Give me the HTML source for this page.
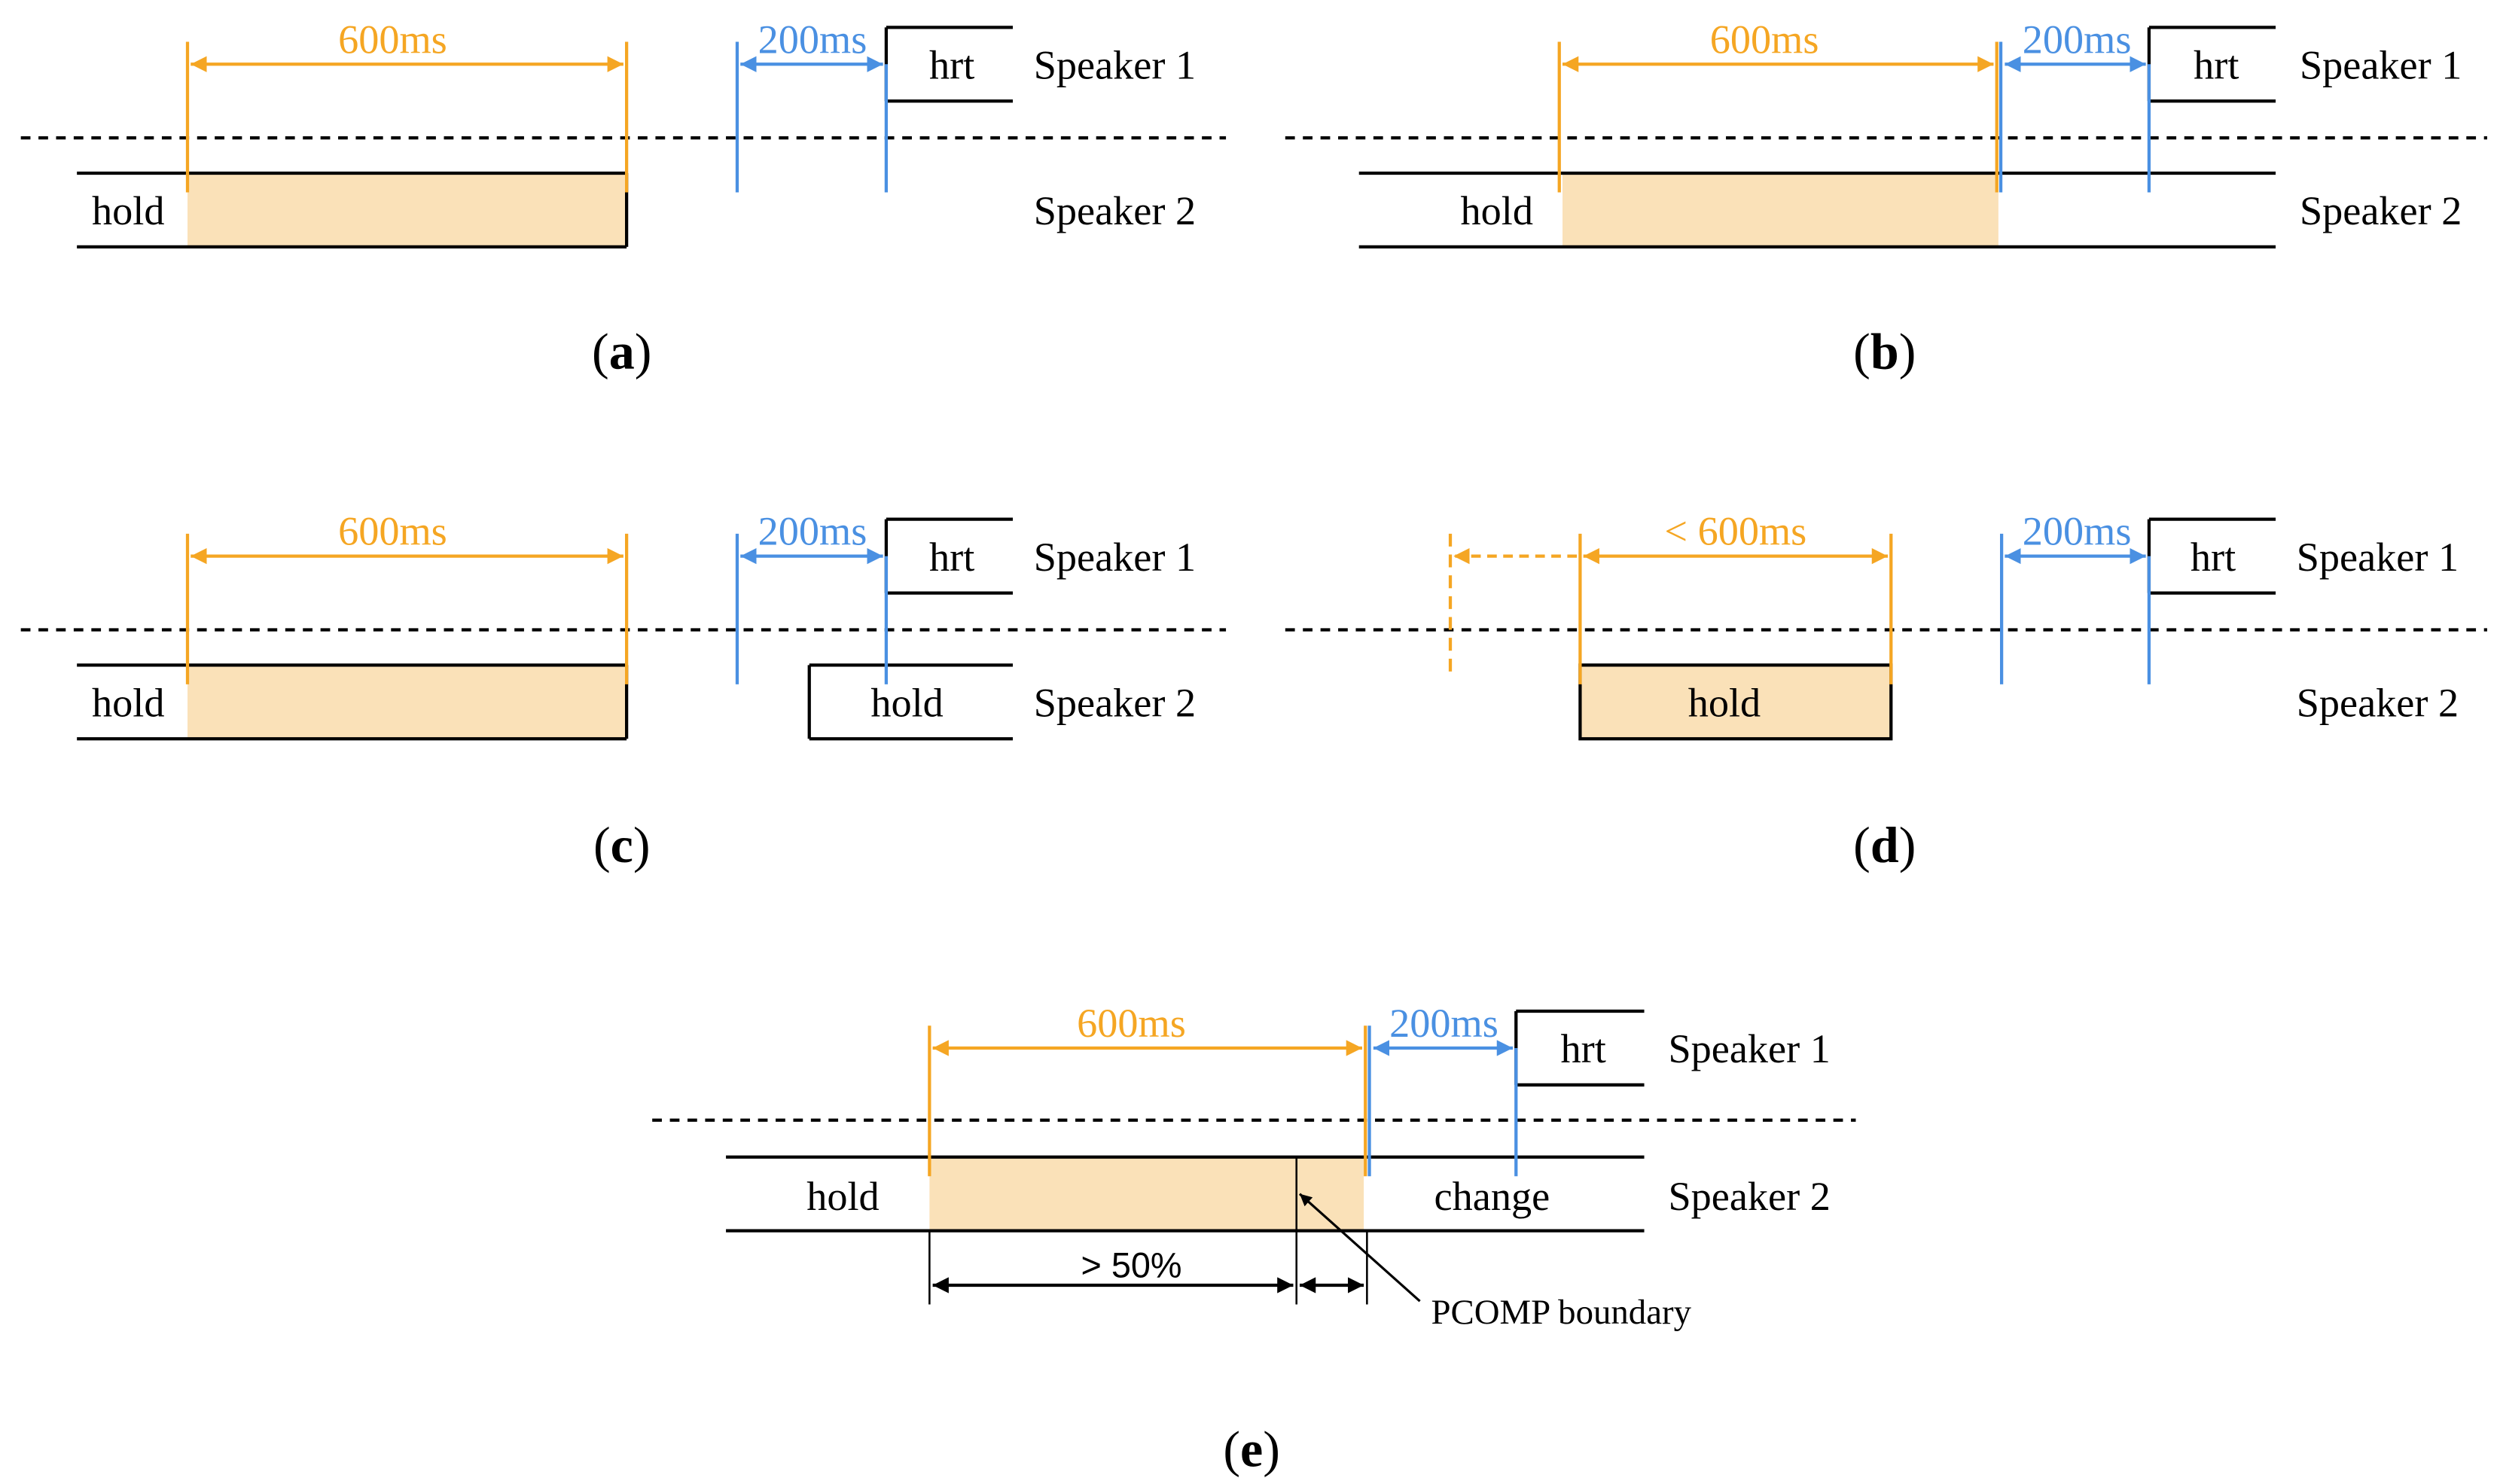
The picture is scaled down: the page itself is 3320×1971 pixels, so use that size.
<!DOCTYPE html>
<html><head><meta charset="utf-8"><style>html,body{margin:0;padding:0;background:#fff}svg{display:block}</style></head><body>
<svg width="3320" height="1971" viewBox="0 0 1560 926" xmlns="http://www.w3.org/2000/svg" font-family="Liberation Serif, serif" font-size="25.5">
<defs>
<marker id="ao" viewBox="0 0 10 10" refX="10" refY="5" markerWidth="5" markerHeight="5" orient="auto-start-reverse"><path d="M0,0L10,5L0,10z" fill="#f5a623"/></marker>
<marker id="ab" viewBox="0 0 10 10" refX="10" refY="5" markerWidth="5" markerHeight="5" orient="auto-start-reverse"><path d="M0,0L10,5L0,10z" fill="#4a90e2"/></marker>
<marker id="ak" viewBox="0 0 10 10" refX="10" refY="5" markerWidth="5" markerHeight="5" orient="auto-start-reverse"><path d="M0,0L10,5L0,10z" fill="#000"/></marker>
</defs>
<g stroke-width="2" fill="none">
<!-- (a) -->
<g>
<rect x="117" y="108" width="274" height="46" fill="#fae1b8" stroke="none"/>
<path d="M48 108H391M48 154H391M391 108V154" stroke="#000"/>
<path d="M553 17H632M553 63H632M553 17V63" stroke="#000"/>
<path d="M13 86H765" stroke="#000" stroke-dasharray="6,5"/>
<path d="M117 26V120M391 26V120" stroke="#f5a623"/>
<path d="M119 40H389" stroke="#f5a623" marker-start="url(#ao)" marker-end="url(#ao)"/>
<path d="M460 26V120M553 40V120" stroke="#4a90e2"/>
<path d="M462 40H551" stroke="#4a90e2" marker-start="url(#ab)" marker-end="url(#ab)"/>
</g>
<!-- (b) -->
<g>
<rect x="975" y="108" width="272" height="46" fill="#fae1b8" stroke="none"/>
<path d="M848 108H1420M848 154H1420" stroke="#000"/>
<path d="M1341 17H1420M1341 63H1420M1341 17V63" stroke="#000"/>
<path d="M802 86H1552" stroke="#000" stroke-dasharray="6,5"/>
<path d="M973 26V120M1246 26V120" stroke="#f5a623"/>
<path d="M975 40H1244" stroke="#f5a623" marker-start="url(#ao)" marker-end="url(#ao)"/>
<path d="M1248.5 26V120M1341 40V120" stroke="#4a90e2"/>
<path d="M1251 40H1339" stroke="#4a90e2" marker-start="url(#ab)" marker-end="url(#ab)"/>
</g>
<!-- (c) -->
<g transform="translate(0,307)">
<rect x="117" y="108" width="274" height="46" fill="#fae1b8" stroke="none"/>
<path d="M48 108H391M48 154H391M391 108V154" stroke="#000"/>
<path d="M505 108H632M505 154H632M505 108V154" stroke="#000"/>
<path d="M553 17H632M553 63H632M553 17V63" stroke="#000"/>
<path d="M13 86H765" stroke="#000" stroke-dasharray="6,5"/>
<path d="M117 26V120M391 26V120" stroke="#f5a623"/>
<path d="M119 40H389" stroke="#f5a623" marker-start="url(#ao)" marker-end="url(#ao)"/>
<path d="M460 26V120M553 40V120" stroke="#4a90e2"/>
<path d="M462 40H551" stroke="#4a90e2" marker-start="url(#ab)" marker-end="url(#ab)"/>
</g>
<!-- (d) -->
<g transform="translate(0,307)">
<rect x="986" y="108" width="194" height="46" fill="#fae1b8" stroke="#000"/>
<path d="M1341 17H1420M1341 63H1420M1341 17V63" stroke="#000"/>
<path d="M802 86H1552" stroke="#000" stroke-dasharray="6,5"/>
<path d="M905 26V114" stroke="#f5a623" stroke-dasharray="8,5"/>
<path d="M984 40H907" stroke="#f5a623" stroke-dasharray="6,4" marker-end="url(#ao)"/>
<path d="M986 26V120M1180 26V120" stroke="#f5a623"/>
<path d="M988 40H1178" stroke="#f5a623" marker-start="url(#ao)" marker-end="url(#ao)"/>
<path d="M1249 26V120M1341 40V120" stroke="#4a90e2"/>
<path d="M1251 40H1339" stroke="#4a90e2" marker-start="url(#ab)" marker-end="url(#ab)"/>
</g>
<!-- (e) -->
<g>
<rect x="580" y="722" width="271" height="46" fill="#fae1b8" stroke="none"/>
<path d="M453 722H1026M453 768H1026" stroke="#000"/>
<path d="M809 722V814M580 768V814M853 768V814" stroke="#000" stroke-width="1.2"/>
<path d="M946 631H1026M946 677H1026M946 631V677" stroke="#000"/>
<path d="M407 699H1158" stroke="#000" stroke-dasharray="6,5"/>
<path d="M580 640V734M852 640V734" stroke="#f5a623"/>
<path d="M582 654H850" stroke="#f5a623" marker-start="url(#ao)" marker-end="url(#ao)"/>
<path d="M854.5 640V734M946 654V734" stroke="#4a90e2"/>
<path d="M857 654H944" stroke="#4a90e2" marker-start="url(#ab)" marker-end="url(#ab)"/>
<path d="M582 802H807" stroke="#000" marker-start="url(#ak)" marker-end="url(#ak)"/>
<path d="M811 802H851" stroke="#000" marker-start="url(#ak)" marker-end="url(#ak)"/>
<path d="M886 812L811 745" stroke="#000" stroke-width="1.5" marker-end="url(#ak)"/>
</g>
</g>
<g text-anchor="middle">
<text x="245" y="33" fill="#f5a623">600ms</text><text x="507" y="33" fill="#4a90e2">200ms</text>
<text x="1101" y="33" fill="#f5a623">600ms</text><text x="1296" y="33" fill="#4a90e2">200ms</text>
<text x="245" y="340" fill="#f5a623">600ms</text><text x="507" y="340" fill="#4a90e2">200ms</text>
<text x="1083" y="340" fill="#f5a623">&lt; 600ms</text><text x="1296" y="340" fill="#4a90e2">200ms</text>
<text x="706" y="647" fill="#f5a623">600ms</text><text x="901" y="647" fill="#4a90e2">200ms</text>
<text x="594" y="49">hrt</text><text x="1383" y="49">hrt</text><text x="594" y="356">hrt</text><text x="1381" y="356">hrt</text><text x="988" y="663">hrt</text>
<text x="80" y="140">hold</text><text x="934" y="140">hold</text><text x="80" y="447">hold</text><text x="566" y="447">hold</text><text x="1076" y="447">hold</text><text x="526" y="755">hold</text><text x="931" y="755">change</text>
<text x="706" y="797" font-family="Liberation Sans, sans-serif" font-size="22">&gt; 50%</text>
<text x="388" y="230" font-size="32">(<tspan font-weight="bold">a</tspan>)</text>
<text x="1176" y="230" font-size="32">(<tspan font-weight="bold">b</tspan>)</text>
<text x="388" y="538" font-size="32">(<tspan font-weight="bold">c</tspan>)</text>
<text x="1176" y="538" font-size="32">(<tspan font-weight="bold">d</tspan>)</text>
<text x="781" y="915" font-size="32">(<tspan font-weight="bold">e</tspan>)</text>
</g>
<g>
<text x="645" y="49">Speaker 1</text><text x="645" y="140">Speaker 2</text>
<text x="1435" y="49">Speaker 1</text><text x="1435" y="140">Speaker 2</text>
<text x="645" y="356">Speaker 1</text><text x="645" y="447">Speaker 2</text>
<text x="1433" y="356">Speaker 1</text><text x="1433" y="447">Speaker 2</text>
<text x="1041" y="663">Speaker 1</text><text x="1041" y="755">Speaker 2</text>
<text x="893" y="826" font-size="22">PCOMP boundary</text>
</g>
</svg>
</body></html>
